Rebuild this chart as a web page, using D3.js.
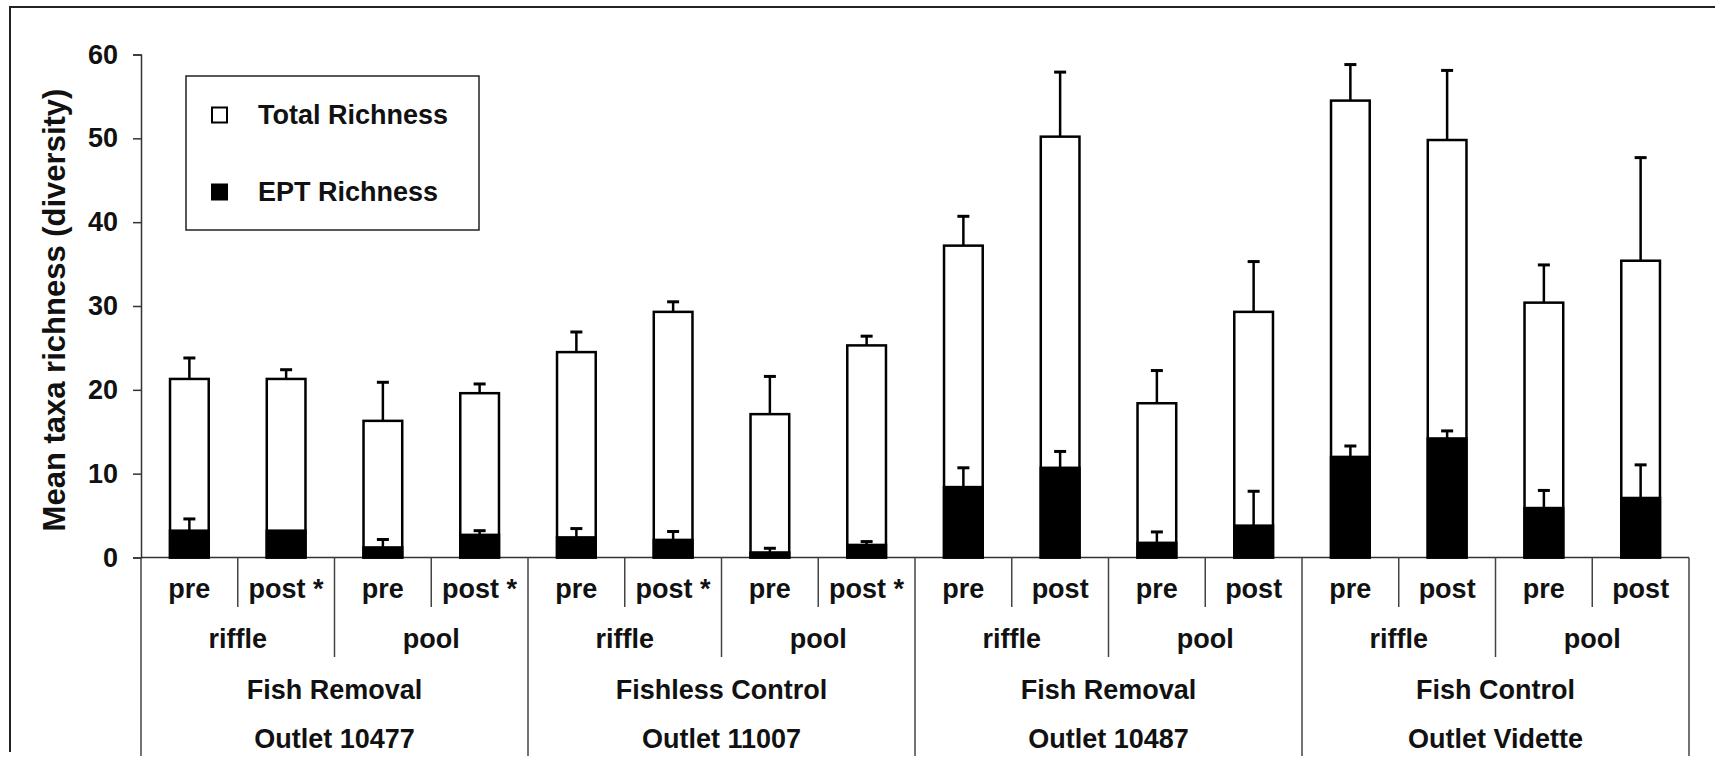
<!DOCTYPE html>
<html>
<head>
<meta charset="utf-8">
<script src="https://cdn.jsdelivr.net/npm/d3@7"></script>
<style>
  body { margin: 0; background: #fff; }
  svg text { font-family: "Liberation Sans", Arial, sans-serif; font-weight: bold; fill: #111; }
</style>
</head>
<body>
<svg id="chart" width="1715" height="768"></svg>
<script>
// values
const periods = ['pre', 'post *', 'pre', 'post *', 'pre', 'post *', 'pre', 'post *',
                 'pre', 'post', 'pre', 'post', 'pre', 'post', 'pre', 'post'];
const habitats = ['riffle', 'pool', 'riffle', 'pool', 'riffle', 'pool', 'riffle', 'pool'];
const treatments = ['Fish Removal', 'Fishless Control', 'Fish Removal', 'Fish Control'];
const outlets = ['Outlet 10477', 'Outlet 11007', 'Outlet 10487', 'Outlet Vidette'];

const totalRichness = [21.3, 21.3, 16.3, 19.6, 24.5, 29.3, 17.1, 25.3, 37.2, 50.2, 18.4, 29.3, 54.5, 49.8, 30.4, 35.4];
const totalErr      = [2.5, 1.1, 4.6, 1.1, 2.4, 1.2, 4.5, 1.1, 3.5, 7.7, 3.9, 6.0, 4.3, 8.3, 4.5, 12.3];
const eptRichness   = [3.2, 3.2, 1.2, 2.7, 2.4, 2.1, 0.6, 1.5, 8.4, 10.7, 1.75, 3.8, 12.0, 14.2, 5.9, 7.1];
const eptErr        = [1.4, 0, 0.95, 0.5, 1.05, 1.0, 0.5, 0.4, 2.3, 1.95, 1.3, 4.1, 1.3, 0.9, 2.1, 3.95];
const yTicks = [0, 10, 20, 30, 40, 50, 60];

const svg = d3.select('#chart');

const xScale = d3.scaleBand()
    .domain(d3.range(periods.length))
    .range([141, 1689])
    .paddingInner(0.6)
    .paddingOuter(0.3);
const yScale = d3.scaleLinear()
    .domain([0, 60])
    .range([557.5, 54.5]);

const step = xScale.step();
// slot edges (outer padding = half inner padding, so slots start at the range start)
const slotLeft = i => xScale.range()[0] + i * step;
const slotMid = i => xScale(i) + xScale.bandwidth() / 2;

// frame (left + top edge of the pasted figure)
svg.append('path')
    .attr('d', 'M10,752 V7 H1715')
    .attr('fill', 'none')
    .attr('stroke', '#222')
    .attr('stroke-width', 2);

// y axis
const yAxis = svg.append('g')
    .attr('transform', `translate(${slotLeft(0)},0)`)
    .call(d3.axisLeft(yScale).tickValues(yTicks).tickSizeOuter(0).tickSize(8).tickPadding(15));
yAxis.select('.domain').attr('stroke', '#333').attr('stroke-width', 1.5);
yAxis.selectAll('.tick line').attr('stroke', '#333').attr('stroke-width', 1.5);
yAxis.selectAll('.tick text')
    .style('font-size', '27px')
    .style('font-family', '"Liberation Sans", Arial, sans-serif')
    .style('font-weight', 'bold')
    .attr('fill', '#111');

svg.append('text')
    .attr('transform', 'translate(65,310) rotate(-90)')
    .attr('text-anchor', 'middle')
    .style('font-size', '31px')
    .text('Mean taxa richness (diversity)');

// x baseline
svg.append('line')
    .attr('x1', slotLeft(0)).attr('x2', slotLeft(periods.length))
    .attr('y1', yScale(0)).attr('y2', yScale(0))
    .attr('stroke', '#333').attr('stroke-width', 1.5);

// category dividers under the axis
const dividers = d3.range(periods.length + 1).map(i => {
    let bottom = 607;
    if (i % 2 == 0) bottom = 657;
    if (i % 4 == 0) bottom = 756;
    return {x: slotLeft(i), bottom: bottom};
});
svg.selectAll('line.divider')
    .data(dividers)
    .enter().append('line')
    .attr('class', 'divider')
    .attr('x1', d => d.x).attr('x2', d => d.x)
    .attr('y1', yScale(0)).attr('y2', d => d.bottom)
    .attr('stroke', '#444').attr('stroke-width', 1.5);

// label rows
const labelRow = (labels, span, y) => {
    svg.selectAll(null)
        .data(labels)
        .enter().append('text')
        .attr('x', (d, i) => (slotLeft(i * span) + slotLeft((i + 1) * span)) / 2)
        .attr('y', y)
        .attr('text-anchor', 'middle')
        .style('font-size', '27px')
        .text(d => d);
};
labelRow(periods, 1, 598);
labelRow(habitats, 2, 648);
labelRow(treatments, 4, 699);
labelRow(outlets, 4, 748);

// bars
const bars = svg.append('g');
bars.selectAll('rect.total')
    .data(totalRichness)
    .enter().append('rect')
    .attr('class', 'total')
    .attr('x', (d, i) => xScale(i))
    .attr('y', d => yScale(d))
    .attr('width', xScale.bandwidth())
    .attr('height', d => yScale(0) - yScale(d))
    .attr('fill', '#fff')
    .attr('stroke', '#000')
    .attr('stroke-width', 2.5);

bars.selectAll('rect.ept')
    .data(eptRichness)
    .enter().append('rect')
    .attr('class', 'ept')
    .attr('x', (d, i) => xScale(i))
    .attr('y', d => yScale(d))
    .attr('width', xScale.bandwidth())
    .attr('height', d => yScale(0) - yScale(d))
    .attr('fill', '#000')
    .attr('stroke', '#000')
    .attr('stroke-width', 2.5);

// error bars (upper only)
const errBars = (means, errs) => {
    const data = means.map((m, i) => ({i: i, m: m, e: errs[i]})).filter(d => d.e > 0);
    const g = svg.append('g');
    g.selectAll('line.stem')
        .data(data)
        .enter().append('line')
        .attr('x1', d => slotMid(d.i)).attr('x2', d => slotMid(d.i))
        .attr('y1', d => yScale(d.m)).attr('y2', d => yScale(d.m + d.e))
        .attr('stroke', '#000').attr('stroke-width', 2.5);
    g.selectAll('line.cap')
        .data(data)
        .enter().append('line')
        .attr('x1', d => slotMid(d.i) - 6).attr('x2', d => slotMid(d.i) + 6)
        .attr('y1', d => yScale(d.m + d.e)).attr('y2', d => yScale(d.m + d.e))
        .attr('stroke', '#000').attr('stroke-width', 3);
};
errBars(totalRichness, totalErr);
errBars(eptRichness, eptErr);

// legend
const legend = svg.append('g');
legend.append('rect')
    .attr('x', 186).attr('y', 76)
    .attr('width', 293).attr('height', 154)
    .attr('fill', '#fff').attr('stroke', '#222').attr('stroke-width', 1.5);
const legendItems = [
    {label: 'Total Richness', fill: '#fff', y: 115},
    {label: 'EPT Richness', fill: '#000', y: 192}
];
legendItems.forEach(d => {
    legend.append('rect')
        .attr('x', 212).attr('y', d.y - 7.5)
        .attr('width', 15).attr('height', 15)
        .attr('fill', d.fill).attr('stroke', '#000').attr('stroke-width', 2);
    legend.append('text')
        .attr('x', 258).attr('y', d.y)
        .attr('dy', '0.35em')
        .style('font-size', '27px')
        .text(d.label);
});
</script>
</body>
</html>
